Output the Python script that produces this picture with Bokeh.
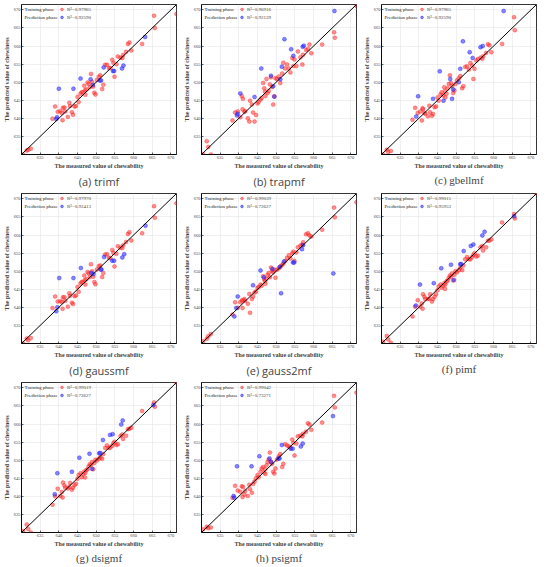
from bokeh.plotting import figure
from bokeh.models import Range1d, FixedTicker, Slope, Legend, LegendItem, Label, Title
from bokeh.layouts import gridplot
from bokeh.embed import file_html
from bokeh.resources import INLINE

NAN = float("nan")

tick_values = [635, 640, 645, 650, 655, 660, 665, 670]

# measured chewability of the training samples (shared by all panels)
train_measured = [630.4, 631.4, 631.8, 632.5, 638.3, 639.0, 639.7, 640.4, 640.8, 641.0,
                  641.1, 641.5, 641.7, 642.4, 642.8, 643.0, 643.5, 643.8, 644.2, 644.6,
                  645.0, 645.3, 645.8, 646.1, 646.5, 646.8, 647.0, 647.1, 647.4, 647.7,
                  648.0, 648.3, 648.6, 648.9, 649.2, 649.5, 649.8, 650.2, 650.7, 651.1,
                  651.6, 651.9, 652.4, 652.9, 653.4, 653.8, 654.3, 654.6, 654.9, 655.4,
                  655.8, 656.5, 657.0, 657.2, 658.0, 658.5, 658.9, 659.4, 662.3, 665.5,
                  665.7, 671.5]

# predicted chewiness, training phase
train_pred_a = [630.0, 631.1, 631.3, 631.6, 639.9, 643.3, 641.8, 642.0, 641.5, 639.5,
                642.9, 643.0, 641.9, 640.4, 644.3, 643.4, 641.7, 641.0, 643.3, 643.4,
                645.9, 644.5, 646.8, 647.2, 647.2, 649.0, 647.8, 646.5, 648.0, 649.9,
                649.5, 648.6, 652.3, 650.1, 648.8, 647.1, 646.6, 650.6, 651.5, 651.9,
                648.1, 649.3, 654.8, 654.8, 653.9, 653.9, 656.2, 655.4, 651.5, 655.0,
                657.1, 656.8, 656.7, 657.5, 658.4, 660.6, 661.0, 658.8, 660.6, 668.4,
                665.0, 668.9]
train_pred_b = [630.1, 633.7, 632.1, 630.0, 639.4, 641.6, 641.9, 640.3, 646.2, 642.5,
                645.4, 641.8, 642.0, 640.0, 639.1, 644.9, 643.8, 641.6, 639.1, 640.9,
                644.1, 644.5, 645.2, 645.6, 649.8, 648.3, 647.4, 646.2, 650.9, 647.0,
                647.6, 649.4, 651.4, 648.7, 643.8, 646.1, 651.1, 650.9, 651.6, 649.8,
                652.4, 655.4, 653.8, 654.9, 653.8, 652.7, 656.7, 654.5, 656.3, 654.5,
                658.5, 656.9, 654.9, 657.6, 658.9, 659.2, 660.4, 658.0, 660.4, 663.8,
                662.3, 671.1]
train_pred_c = [630.0, 631.3, 630.7, 631.0, 639.6, 642.9, 641.5, 641.9, 639.4, 642.8,
                642.5, 641.5, 641.3, 640.6, 643.5, 641.7, 640.7, 641.2, 643.1, 643.3,
                645.8, 644.9, 646.6, 647.2, 646.3, 648.6, 647.6, 645.8, 646.8, 648.3,
                649.5, 651.9, 649.8, 648.9, 647.0, 647.7, 649.5, 650.5, 651.1, 651.7,
                648.3, 648.9, 654.2, 654.4, 653.5, 655.3, 654.6, 650.9, 653.7, 656.0,
                656.4, 656.8, 656.5, 657.2, 658.1, 660.5, 660.2, 658.3, 660.6, 668.0,
                664.4, NAN]
train_pred_d = [630.0, 631.4, 630.9, 631.5, 639.8, 643.0, 641.6, 641.7, 641.5, 639.6,
                642.8, 642.8, 641.8, 640.2, 643.9, 643.2, 641.3, 640.9, 643.1, 643.3,
                645.6, 644.3, 646.6, 647.0, 647.1, 648.8, 647.6, 646.3, 647.8, 649.8,
                649.4, 648.4, 651.9, 650.0, 648.5, 647.0, 646.4, 650.5, 651.4, 651.6,
                648.4, 649.5, 654.6, 654.7, 653.7, 653.6, 655.9, 655.1, 651.3, 654.8,
                656.9, 656.5, 656.4, 657.2, 658.1, 660.3, 660.8, 658.5, 660.5, 668.0,
                664.8, 668.8]
train_pred_e = [630.6, 631.3, 632.0, 632.6, 638.0, 641.4, 639.9, 641.4, 641.9, 639.8,
                642.0, 642.3, 641.8, 641.0, 643.7, 638.5, 642.3, 643.0, 644.1, 644.4,
                645.4, 645.6, 646.3, 646.0, 648.6, 647.7, 647.2, 646.5, 647.9, 649.0,
                649.5, 648.3, 651.0, 650.1, 649.7, 650.4, 648.2, 650.4, 650.8, 651.3,
                651.7, 652.1, 652.8, 653.7, 654.4, 653.5, 655.0, 655.4, 652.8, 655.2,
                656.6, 657.1, 657.3, 658.0, 660.2, 660.5, 659.9, 659.6, 661.5, 667.6,
                664.9, 669.1]
train_pred_f = [630.5, 632.1, 631.1, 630.2, 637.5, 640.2, 642.0, 640.2, 641.1, 639.6,
                643.6, 642.9, 642.3, 642.3, 642.4, 643.6, 641.6, 642.3, 642.9, 643.6,
                644.7, 645.8, 646.3, 645.4, 646.0, 646.7, 645.1, 646.3, 647.2, 647.4,
                648.1, 648.8, 648.5, 649.4, 647.4, 649.0, 650.0, 649.7, 650.3, 650.9,
                650.3, 651.6, 653.3, 653.9, 653.3, 653.3, 653.9, 654.5, 655.0, 654.1,
                654.3, 656.6, 657.0, 655.7, 656.6, 658.4, 658.5, 658.8, 663.5, 665.8,
                664.6, 671.5]
train_pred_g = [630.4, 632.2, 631.0, 630.0, 637.7, 640.0, 642.1, 640.1, 641.2, 639.7,
                643.8, 643.0, 642.4, 642.2, 642.6, 643.7, 641.8, 642.4, 643.1, 643.5,
                644.9, 645.9, 646.4, 645.3, 646.1, 646.9, 645.2, 646.5, 647.3, 647.5,
                648.3, 648.9, 648.6, 649.5, 647.5, 649.2, 650.1, 649.9, 650.4, 650.8,
                650.4, 651.7, 653.4, 654.1, 653.4, 653.5, 654.0, 654.7, 655.1, 654.2,
                654.4, 656.7, 657.1, 655.9, 656.8, 658.6, 658.7, 659.0, 663.6, 666.0,
                664.8, 671.5]
train_pred_h = [630.9, 631.6, 631.2, 631.4, 639.6, 642.9, 641.6, 641.3, 642.8, 639.8,
                642.6, 640.5, 641.5, 640.1, 643.2, 642.0, 641.0, 643.4, 644.1, 645.0,
                645.9, 645.3, 646.8, 647.7, 648.1, 646.6, 647.5, 646.2, 648.6, 649.5,
                650.2, 652.1, 649.6, 649.0, 646.8, 646.3, 647.7, 650.2, 651.1, 651.7,
                648.1, 649.0, 654.4, 654.1, 653.8, 653.5, 655.7, 654.8, 651.3, 654.6,
                656.6, 656.8, 656.6, 657.3, 657.9, 660.2, 659.9, 658.4, 660.4, 667.8,
                664.6, 668.7]

# prediction phase: measured (x) and predicted (y)
pred_x_a = [639.3, 639.5, 640.0, 643.9, 645.8, 648.5, 649.1, 651.0, 651.3, 652.0, 654.5, 654.8, 656.9, 657.3, 663.1]
pred_y_a = [639.8, 640.3, 648.2, 648.2, 651.0, 650.8, 649.2, 650.5, 650.5, 654.1, 653.1, 653.1, 653.8, 654.6, 662.5]
pred_x_b = [639.5, 639.7, 640.4, 644.2, 646.0, 648.6, 649.2, 649.5, 651.1, 651.5, 652.2, 654.0, 654.6, 657.1, 657.4, 665.6]
pred_y_b = [640.8, 641.3, 646.9, 645.9, 653.8, 651.8, 648.9, 646.0, 650.8, 654.3, 661.9, 659.1, 657.3, 659.8, 660.1, 669.7]
pred_x_c = [639.3, 639.8, 643.8, 645.6, 646.6, 648.4, 648.9, 649.2, 650.7, 651.1, 651.8, 653.6, 654.4, 656.5, 657.1, 662.7]
pred_y_c = [640.5, 646.1, 645.4, 653.0, 644.9, 650.9, 645.4, 648.0, 650.0, 653.7, 661.3, 658.3, 656.7, 659.7, 660.0, 669.7]
pred_x_d = [639.3, 639.6, 640.1, 643.9, 645.9, 648.7, 649.3, 651.2, 651.4, 652.1, 654.3, 654.8, 657.0, 657.5, 663.2]
pred_y_d = [638.9, 640.0, 648.1, 648.1, 650.9, 649.5, 649.2, 650.5, 650.5, 653.9, 652.9, 652.9, 653.8, 654.7, 662.6]
pred_x_e = [638.8, 639.3, 639.7, 643.8, 645.8, 646.7, 649.0, 651.0, 651.3, 652.1, 654.5, 654.8, 656.9, 657.2, 665.3]
pred_y_e = [637.5, 639.8, 643.0, 646.1, 650.2, 648.3, 650.6, 651.2, 643.9, 652.7, 652.4, 652.4, 656.1, 657.2, 649.4]
pred_x_f = [639.2, 640.3, 644.0, 646.0, 648.6, 649.4, 651.1, 651.3, 652.0, 653.9, 654.6, 657.0, 657.6, 665.5]
pred_y_f = [640.5, 646.3, 646.7, 650.8, 651.8, 647.6, 651.9, 652.0, 655.6, 657.0, 657.4, 659.9, 660.9, 665.2]
pred_x_g = [638.9, 639.6, 643.5, 645.5, 648.2, 648.9, 650.8, 651.1, 651.8, 653.7, 654.4, 656.7, 657.1, 665.3]
pred_y_g = [640.6, 646.4, 646.8, 650.7, 651.8, 647.6, 651.9, 652.0, 655.6, 657.0, 657.2, 659.9, 661.0, 665.3]
pred_x_h = [638.6, 638.8, 639.5, 643.4, 645.5, 648.2, 648.6, 650.6, 650.9, 651.5, 653.9, 654.4, 656.6, 657.1, 665.2]
pred_y_h = [640.1, 639.6, 648.3, 648.3, 651.1, 650.5, 649.5, 650.5, 650.5, 654.2, 653.2, 653.2, 653.8, 654.6, 662.2]

letters = ["a", "b", "c", "d", "e", "f", "g", "h"]
names = ["trimf", "trapmf", "gbellmf", "gaussmf", "gauss2mf", "pimf", "dsigmf", "psigmf"]
r2_train = ["0.97965", "0.96916", "0.97965", "0.97970", "0.99039", "0.99015", "0.99019", "0.99042"]
r2_pred = ["0.92590", "0.92139", "0.92590", "0.92413", "0.72627", "0.95953", "0.72627", "0.73271"]
caption_fonts = ["Open Sans", "Open Sans", "Liberation Serif", "Open Sans",
                 "Open Sans", "Liberation Serif", "Liberation Serif", "Liberation Serif"]

train_preds = [train_pred_a, train_pred_b, train_pred_c, train_pred_d,
               train_pred_e, train_pred_f, train_pred_g, train_pred_h]
pred_xs = [pred_x_a, pred_x_b, pred_x_c, pred_x_d, pred_x_e, pred_x_f, pred_x_g, pred_x_h]
pred_ys = [pred_y_a, pred_y_b, pred_y_c, pred_y_d, pred_y_e, pred_y_f, pred_y_g, pred_y_h]

SERIF = "Liberation Serif"
FW, FH = 155, 150


def make_panel(i):
    p = figure(frame_width=FW, frame_height=FH,
               x_range=Range1d(630, 671.5), y_range=Range1d(630, 671.5),
               output_backend="svg", toolbar_location=None,
               min_border_left=19, min_border_right=4, min_border_top=4, min_border_bottom=30,
               background_fill_color="white", border_fill_color="white")
    p.outline_line_color = "black"
    p.outline_line_width = 0.8
    p.xaxis.axis_label = "The measured value of chewability"
    p.yaxis.axis_label = "The predicted value of chewiness"
    for ax in (p.xaxis[0], p.yaxis[0]):
        ax.ticker = FixedTicker(ticks=tick_values)
        ax.major_label_text_font = SERIF
        ax.major_label_text_font_size = "4.5px"
        ax.axis_label_text_font = SERIF
        ax.axis_label_text_font_style = "bold"
        ax.axis_label_text_font_size = "6px"
        ax.axis_label_standoff = 1
        ax.major_label_standoff = 1
        ax.major_tick_in = 2
        ax.major_tick_out = 0
        ax.major_tick_line_width = 0.6
        ax.minor_tick_line_color = None
        ax.axis_line_color = "black"
        ax.axis_line_width = 0.8
    p.grid.grid_line_color = "#e6e6e6"
    p.grid.grid_line_width = 0.6

    rt = p.scatter(train_measured, train_preds[i], marker="circle", size=4,
                   fill_color="#ff3333", fill_alpha=0.55, line_color="#ff0000",
                   line_alpha=0.7, line_width=0.4)
    rp = p.scatter(pred_xs[i], pred_ys[i], marker="circle", size=4,
                   fill_color="#3333ff", fill_alpha=0.6, line_color="#0000ff",
                   line_alpha=0.8, line_width=0.4)

    p.add_layout(Slope(gradient=1, y_intercept=0, line_color="black", line_width=1))

    legend = Legend(items=[LegendItem(label="R²=" + r2_train[i], renderers=[rt]),
                           LegendItem(label="R²=" + r2_pred[i], renderers=[rp])],
                    location=(37, FH - 1 - 16), glyph_width=7, glyph_height=8,
                    label_height=8, label_standoff=2, spacing=0, padding=0, margin=0,
                    border_line_color=None, background_fill_alpha=0,
                    label_text_font=SERIF, label_text_font_size="5px")
    p.add_layout(legend)
    for k, txt in enumerate(["Training phase", "Prediction phase"]):
        p.add_layout(Label(x=3, y=FH - 5 - 8 * k, x_units="screen", y_units="screen",
                           text=txt, text_font=SERIF, text_font_size="5px",
                           text_baseline="middle", text_color="#222222"))

    p.add_layout(Title(text="(%s) %s" % (letters[i], names[i]), align="center",
                       text_font=caption_fonts[i], text_font_size="11px",
                       text_font_style="normal", standoff=1, offset=0), "below")
    return p


panels = [make_panel(i) for i in range(8)]
grid = gridplot([[panels[0], panels[1], panels[2]],
                 [panels[3], panels[4], panels[5]],
                 [panels[6], panels[7], None]], toolbar_location=None)

open("out.html", "w").write(file_html(grid, INLINE))
